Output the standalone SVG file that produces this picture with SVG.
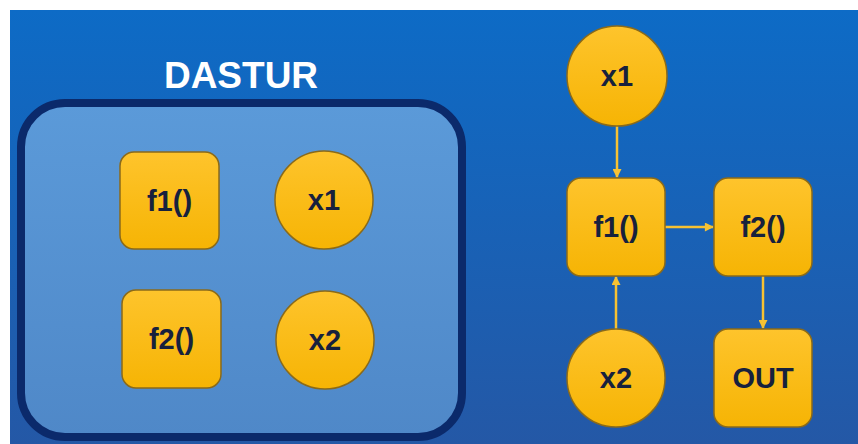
<svg xmlns="http://www.w3.org/2000/svg" width="858" height="444" viewBox="0 0 858 444">
  <defs>
    <linearGradient id="bg" x1="0" y1="0" x2="0" y2="1">
      <stop offset="0" stop-color="#0d6bc6"/>
      <stop offset="1" stop-color="#2458a6"/>
    </linearGradient>
    <linearGradient id="panel" x1="0" y1="0" x2="0" y2="1">
      <stop offset="0" stop-color="#5b9ad9"/>
      <stop offset="1" stop-color="#4f88c8"/>
    </linearGradient>
    <linearGradient id="gold" x1="0" y1="0" x2="0" y2="1">
      <stop offset="0" stop-color="#fec42c"/>
      <stop offset="1" stop-color="#f6b404"/>
    </linearGradient>
    <marker id="arrow" viewBox="0 0 10 10" refX="9" refY="5" markerWidth="10" markerHeight="9" orient="auto" markerUnits="userSpaceOnUse">
      <path d="M0,0 L10,5 L0,10 z" fill="#f7c233"/>
    </marker>
    <style>
      .node { fill: url(#gold); stroke: #8a6a1a; stroke-width: 1.5; }
      .label { font-family: "Liberation Sans", "DejaVu Sans", sans-serif; font-weight: bold; font-size: 29px; fill: #17213d; text-anchor: middle; dominant-baseline: central; }
      .title { font-family: "Liberation Sans", "DejaVu Sans", sans-serif; font-weight: bold; font-size: 37px; fill: #ffffff; text-anchor: middle; }
      .edge { stroke: #f7c233; stroke-width: 2.5; fill: none; marker-end: url(#arrow); }
    </style>
  </defs>

  <!-- page -->
  <rect x="0" y="0" width="858" height="444" fill="#ffffff"/>
  <rect x="10" y="10" width="848" height="434" fill="url(#bg)"/>

  <!-- storage panel -->
  <g id="dastur">
    <text class="title" x="241" y="88">DASTUR</text>
    <rect x="21" y="103" width="441" height="334" rx="44" fill="url(#panel)" stroke="#0b2a6b" stroke-width="8"/>
  </g>

  <g id="store-f1">
    <rect class="node" x="120" y="152" width="99" height="97" rx="14"/>
    <text class="label" x="169.5" y="200.5">f1()</text>
  </g>
  <g id="store-x1">
    <circle class="node" cx="324" cy="200" r="49"/>
    <text class="label" x="324" y="200">x1</text>
  </g>
  <g id="store-f2">
    <rect class="node" x="122" y="290" width="99" height="98" rx="14"/>
    <text class="label" x="171.5" y="339">f2()</text>
  </g>
  <g id="store-x2">
    <circle class="node" cx="325" cy="340" r="49"/>
    <text class="label" x="325" y="340">x2</text>
  </g>

  <!-- flow graph -->
  <g id="connectors">
    <line class="edge" x1="617" y1="126" x2="617" y2="177"/>
    <line class="edge" x1="665" y1="227" x2="713" y2="227"/>
    <line class="edge" x1="616" y1="329" x2="616" y2="277"/>
    <line class="edge" x1="763" y1="276" x2="763" y2="328"/>
  </g>

  <g id="flow-x1">
    <circle class="node" cx="617" cy="76" r="50"/>
    <text class="label" x="617" y="76">x1</text>
  </g>
  <g id="flow-f1">
    <rect class="node" x="567" y="178" width="98" height="98" rx="14"/>
    <text class="label" x="616" y="227">f1()</text>
  </g>
  <g id="flow-f2">
    <rect class="node" x="714" y="178" width="98" height="98" rx="14"/>
    <text class="label" x="763" y="227">f2()</text>
  </g>
  <g id="flow-x2">
    <circle class="node" cx="616" cy="378" r="49"/>
    <text class="label" x="616" y="378">x2</text>
  </g>
  <g id="flow-out">
    <rect class="node" x="714" y="329" width="98" height="98" rx="14"/>
    <text class="label" x="763" y="378">OUT</text>
  </g>
</svg>
